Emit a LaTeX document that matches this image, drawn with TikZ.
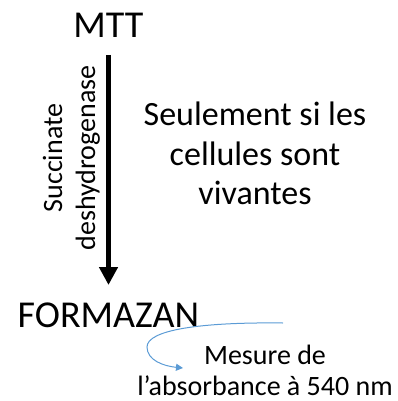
\documentclass[tikz,border=0pt]{standalone}
\usepackage{fontspec}
\setmainfont{Carlito}
\usetikzlibrary{arrows.meta}
\definecolor{offblue}{RGB}{91,155,213}
\begin{document}
\begin{tikzpicture}[x=1pt,y=-1pt,
  big/.style={font=\fontsize{38}{46}\selectfont, inner sep=0pt, anchor=base},
  mid/.style={font=\fontsize{34}{40}\selectfont, inner sep=0pt, anchor=base},
  small/.style={font=\fontsize{28}{33}\selectfont, inner sep=0pt, anchor=base},
  vert/.style={small, rotate=90},
  mainarrow/.style={line width=5pt, -{Triangle[length=18pt,width=18pt]}},
  bluearrow/.style={draw=offblue, line width=1pt, -{Triangle[length=7pt,width=7pt]}}]
\useasboundingbox (0,0) rectangle (398,401);
\node[big] (mtt) at (108.5,38) {MTT};
\node[big] (formazan) at (108.5,327) {FORMAZAN};
\draw[mainarrow] ([yshift=-17pt]mtt.base) -- ([yshift=42pt]formazan.base);
\node[vert] (succ) at (62,158) {Succinate};
\node[vert] (deshy) at (95,158) {deshydrogenase};
\node[mid] (l1) at (255,125) {Seulement si les};
\node[mid] (l2) at (255,165) {cellules sont};
\node[mid] (l3) at (255,204) {vivantes};
\node[small] (m1) at (265,364) {Mesure de};
\node[small] (m2) at (265,395) {l’absorbance à 540 nm};
\coordinate (bstart) at (283,323);
\coordinate (bmid) at (147,347);
\coordinate (bend) at (183,368);
\draw[bluearrow] (bstart) .. controls (200,322) and (147,330) .. (bmid)
  .. controls (147,360) and (163,366) .. (bend);
\end{tikzpicture}
\end{document}
